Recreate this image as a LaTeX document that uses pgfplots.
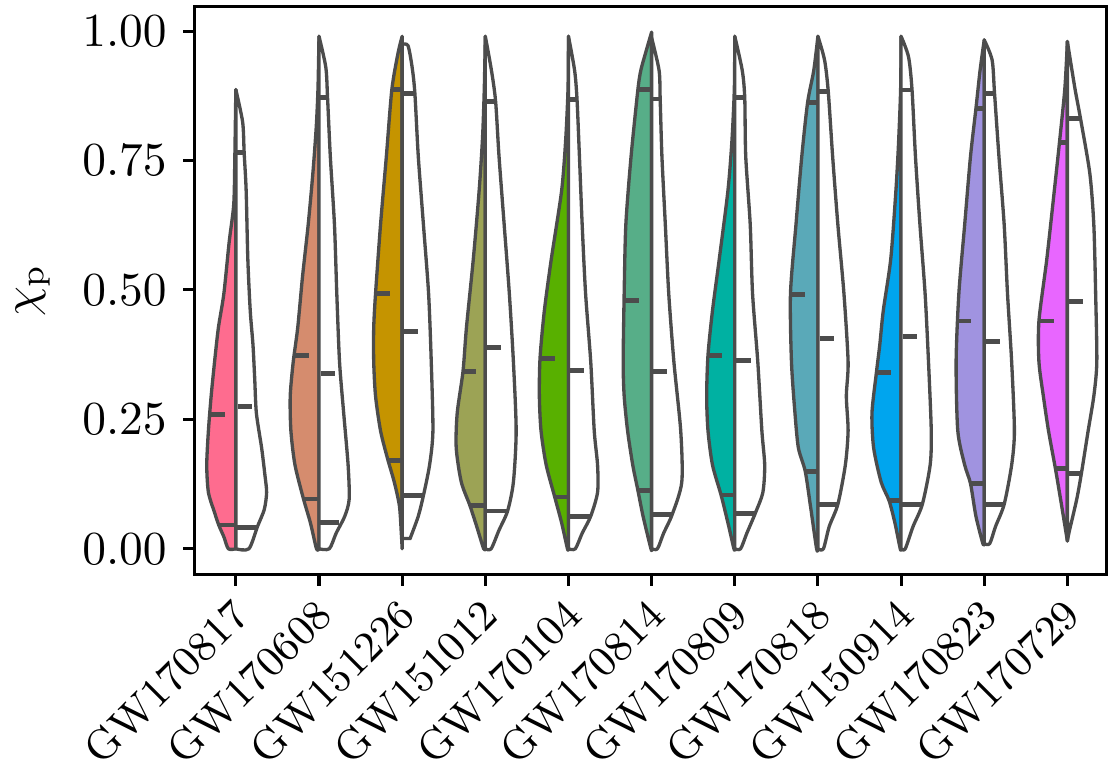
\documentclass[border=0pt]{standalone}
\usepackage{pgfplots}
\usepackage{pgfplotstable}
\pgfplotsset{compat=1.18}
\definecolor{vg}{HTML}{4C4C4C}
\definecolor{c1}{HTML}{FE6C8F}
\definecolor{c2}{HTML}{D58C6E}
\definecolor{c3}{HTML}{C59400}
\definecolor{c4}{HTML}{9CA355}
\definecolor{c5}{HTML}{58B000}
\definecolor{c6}{HTML}{57AE88}
\definecolor{c7}{HTML}{00B1A2}
\definecolor{c8}{HTML}{5AA9B8}
\definecolor{c9}{HTML}{00A5EE}
\definecolor{c10}{HTML}{A093E0}
\definecolor{c11}{HTML}{E866FF}
% ---- violin halves: w = half-width (x units), y = chi_p ----
\pgfplotstableread{
w y
0 0.887
0.012 0.758
0.025 0.666
0.08 0.593
0.144 0.493
0.21 0.427
0.256 0.361
0.297 0.295
0.33 0.228
0.35 0.162
0.33 0.109
0.256 0.07
0.206 0.046
0.144 0.023
0.09 0.0
0 0.0
}\vAL
\pgfplotstableread{
w y
0 0.887
0.082 0.824
0.10 0.765
0.124 0.692
0.144 0.56
0.173 0.46
0.206 0.394
0.227 0.328
0.247 0.262
0.31 0.195
0.35 0.142
0.37 0.109
0.342 0.076
0.26 0.043
0.157 0.0
0 0.0
}\vAR
\pgfplotstableread{
w y
0 0.99
0.012 0.89
0.033 0.815
0.074 0.725
0.13 0.626
0.198 0.526
0.256 0.427
0.31 0.361
0.346 0.295
0.338 0.228
0.289 0.162
0.186 0.096
0.103 0.05
0.03 0.0
0 0
}\vBL
\pgfplotstableread{
w y
0 0.99
0.082 0.93
0.103 0.871
0.136 0.758
0.186 0.626
0.214 0.493
0.247 0.361
0.297 0.262
0.35 0.162
0.363 0.096
0.31 0.063
0.206 0.03
0.124 0.0
0 0
}\vBR
\pgfplotstableread{
w y
0 0.99
0.05 0.957
0.124 0.887
0.19 0.758
0.26 0.626
0.32 0.493
0.342 0.427
0.342 0.361
0.32 0.295
0.26 0.228
0.177 0.175
0.095 0.129
0.033 0.083
0.01 0.03
0 0
}\vCL
\pgfplotstableread{
w y
0 0.974
0.07 0.972
0.12 0.93
0.153 0.88
0.194 0.758
0.256 0.626
0.318 0.493
0.35 0.361
0.37 0.228
0.33 0.162
0.256 0.103
0.194 0.063
0.103 0.023
0.09 0.02
0 0.02
}\vCR
\pgfplotstableread{
w y
0 0.99
0.012 0.89
0.033 0.795
0.074 0.692
0.144 0.56
0.227 0.427
0.268 0.343
0.338 0.262
0.35 0.195
0.289 0.129
0.186 0.084
0.103 0.043
0.02 0.0
0 0
}\vDL
\pgfplotstableread{
w y
0 0.99
0.074 0.924
0.124 0.864
0.165 0.758
0.227 0.626
0.289 0.493
0.338 0.361
0.371 0.228
0.338 0.129
0.268 0.073
0.165 0.036
0.07 0.0
0 0
}\vDR
\pgfplotstableread{
w y
0 0.99
0.005 0.89
0.033 0.791
0.082 0.692
0.206 0.56
0.29 0.46
0.342 0.368
0.35 0.295
0.33 0.228
0.268 0.162
0.165 0.10
0.082 0.05
0.012 0.0
0 0
}\vEL
\pgfplotstableread{
w y
0 0.99
0.074 0.924
0.103 0.868
0.132 0.758
0.165 0.626
0.206 0.493
0.268 0.361
0.31 0.228
0.35 0.162
0.35 0.109
0.268 0.063
0.165 0.03
0.082 0.0
0 0
}\vER
\pgfplotstableread{
w y
0 0.998
0.074 0.957
0.13 0.924
0.165 0.887
0.247 0.758
0.31 0.626
0.33 0.493
0.342 0.361
0.33 0.295
0.289 0.228
0.227 0.162
0.165 0.113
0.103 0.063
0.008 0.0
0 0
}\vFL
\pgfplotstableread{
w y
0 0.987
0.09 0.924
0.103 0.869
0.124 0.758
0.165 0.626
0.206 0.493
0.268 0.361
0.35 0.228
0.363 0.129
0.247 0.066
0.144 0.03
0.07 0.0
0 0
}\vFR
\pgfplotstableread{
w y
0 0.99
0.005 0.89
0.033 0.791
0.082 0.692
0.186 0.56
0.268 0.46
0.322 0.374
0.338 0.295
0.322 0.228
0.268 0.162
0.165 0.104
0.082 0.05
0.01 0.0
0 0
}\vGL
\pgfplotstableread{
w y
0 0.99
0.09 0.924
0.12 0.871
0.132 0.758
0.186 0.626
0.214 0.493
0.277 0.361
0.326 0.228
0.36 0.162
0.338 0.109
0.245 0.068
0.145 0.03
0.07 0.0
0 0
}\vGR
\pgfplotstableread{
w y
0 0.99
0.05 0.924
0.124 0.862
0.194 0.758
0.264 0.626
0.33 0.493
0.318 0.361
0.276 0.262
0.235 0.195
0.153 0.15
0.09 0.083
0.016 0.0
0 0
}\vHL
\pgfplotstableread{
w y
0 0.99
0.08 0.944
0.124 0.884
0.177 0.758
0.24 0.626
0.313 0.493
0.363 0.361
0.342 0.295
0.363 0.228
0.33 0.162
0.24 0.086
0.136 0.043
0.066 0.0
0 0
}\vHR
\pgfplotstableread{
w y
0 0.99
0.005 0.89
0.03 0.785
0.062 0.692
0.124 0.56
0.214 0.46
0.256 0.394
0.297 0.34
0.35 0.262
0.33 0.195
0.24 0.129
0.144 0.093
0.074 0.05
0.01 0.0
0 0
}\vIL
\pgfplotstableread{
w y
0 0.99
0.09 0.95
0.132 0.886
0.173 0.758
0.227 0.626
0.289 0.493
0.33 0.361
0.363 0.228
0.35 0.162
0.256 0.086
0.144 0.043
0.05 0.0
0 0
}\vIR
\pgfplotstableread{
w y
0 0.983
0.05 0.924
0.1 0.85
0.165 0.758
0.235 0.626
0.305 0.493
0.338 0.361
0.318 0.228
0.235 0.162
0.165 0.126
0.1 0.063
0.016 0.01
0 0.01
}\vJL
\pgfplotstableread{
w y
0 0.983
0.095 0.944
0.124 0.88
0.177 0.758
0.24 0.626
0.28 0.493
0.33 0.361
0.363 0.228
0.33 0.162
0.24 0.086
0.136 0.043
0.066 0.01
0 0.01
}\vJR
\pgfplotstableread{
w y
0 0.98
0.03 0.89
0.095 0.785
0.157 0.692
0.247 0.56
0.342 0.44
0.342 0.361
0.289 0.295
0.227 0.228
0.144 0.155
0.082 0.096
0 0.015
}\vKL
\pgfplotstableread{
w y
0 0.98
0.09 0.89
0.158 0.831
0.27 0.725
0.318 0.626
0.34 0.493
0.354 0.361
0.318 0.295
0.25 0.228
0.168 0.145
0.113 0.096
0.022 0.033
0 0.015
}\vKR
\newcommand{\halfv}[4]{%
  \addplot[fill=#3, draw=vg, line width=0.7pt, line join=round, smooth, tension=0.45]
    table[x expr=#1#2\thisrow{w}, y=y] {#4} -- cycle;}
\newcommand{\seg}[3]{%
  \addplot[draw=vg, line width=1.0pt] coordinates {(#1,#3) (#2,#3)};}
\begin{document}
\begin{tikzpicture}
\begin{axis}[
  scale only axis, width=192.4pt, height=119.9pt,
  xmin=-0.5, xmax=10.47, ymin=-0.05, ymax=1.048,
  xtick={0,1,2,3,4,5,6,7,8,9,10},
  xticklabels={GW170817,GW170608,GW151226,GW151012,GW170104,GW170814,GW170809,GW170818,GW150914,GW170823,GW170729},
  xticklabel style={font=\fontsize{9}{10}\selectfont, xshift=-1.3pt, yshift=-2pt, rotate=45, anchor=north east, inner sep=0pt},
  ytick={0,0.25,0.5,0.75,1},
  yticklabel style={/pgf/number format/.cd, fixed, fixed zerofill, precision=2},
  tick align=outside, tick pos=left, major tick length=2.3pt,
  axis line style={line width=0.65pt},
  every tick/.style={black, line width=0.65pt},
  ylabel={$\chi_{\rm p}$},
]
\halfv{0}{-}{c1}{\vAL}  \halfv{0}{+}{white}{\vAR}
\halfv{1}{-}{c2}{\vBL}  \halfv{1}{+}{white}{\vBR}
\halfv{2}{-}{c3}{\vCL}  \halfv{2}{+}{white}{\vCR}
\halfv{3}{-}{c4}{\vDL}  \halfv{3}{+}{white}{\vDR}
\halfv{4}{-}{c5}{\vEL}  \halfv{4}{+}{white}{\vER}
\halfv{5}{-}{c6}{\vFL}  \halfv{5}{+}{white}{\vFR}
\halfv{6}{-}{c7}{\vGL}  \halfv{6}{+}{white}{\vGR}
\halfv{7}{-}{c8}{\vHL}  \halfv{7}{+}{white}{\vHR}
\halfv{8}{-}{c9}{\vIL}  \halfv{8}{+}{white}{\vIR}
\halfv{9}{-}{c10}{\vJL} \halfv{9}{+}{white}{\vJR}
\halfv{10}{-}{c11}{\vKL} \halfv{10}{+}{white}{\vKR}
% quantile and median lines
\seg{-0.206}{0}{0.046} \seg{-0.025}{0}{0.666} \seg{-0.30}{-0.13}{0.26}
\seg{0}{0.10}{0.766} \seg{0}{0.255}{0.041} \seg{0.02}{0.19}{0.275}
\seg{0.967}{1}{0.814} \seg{0.814}{1}{0.096} \seg{0.69}{0.876}{0.374}
\seg{1}{1.103}{0.871} \seg{1}{1.24}{0.051} \seg{1.02}{1.19}{0.338}
\seg{1.876}{2}{0.887} \seg{1.823}{2}{0.17} \seg{1.67}{1.852}{0.493}
\seg{2}{2.153}{0.88} \seg{2}{2.256}{0.103} \seg{2.02}{2.19}{0.42}
\seg{2.967}{3}{0.795} \seg{2.814}{3}{0.084} \seg{2.72}{2.885}{0.343}
\seg{3}{3.124}{0.864} \seg{3}{3.268}{0.073} \seg{3.02}{3.19}{0.389}
\seg{3.967}{4}{0.791} \seg{3.835}{4}{0.10} \seg{3.655}{3.835}{0.368}
\seg{4}{4.103}{0.868} \seg{4}{4.268}{0.063} \seg{4.02}{4.19}{0.344}
\seg{4.835}{5}{0.887} \seg{4.835}{5}{0.113} \seg{4.67}{4.843}{0.479}
\seg{5}{5.103}{0.869} \seg{5}{5.247}{0.066} \seg{5.02}{5.19}{0.343}
\seg{5.967}{6}{0.791} \seg{5.835}{6}{0.104} \seg{5.678}{5.847}{0.374}
\seg{6}{6.12}{0.871} \seg{6}{6.245}{0.068} \seg{6.02}{6.19}{0.364}
\seg{6.876}{7}{0.862} \seg{6.847}{7}{0.15} \seg{6.67}{6.843}{0.491}
\seg{7}{7.124}{0.884} \seg{7}{7.24}{0.086} \seg{7.02}{7.19}{0.406}
\seg{7.97}{8}{0.785} \seg{7.856}{8}{0.093} \seg{7.72}{7.876}{0.34}
\seg{8}{8.132}{0.886} \seg{8}{8.256}{0.086} \seg{8.02}{8.19}{0.41}
\seg{8.9}{9}{0.85} \seg{8.835}{9}{0.126} \seg{8.67}{8.835}{0.44}
\seg{9}{9.124}{0.88} \seg{9}{9.24}{0.086} \seg{9.02}{9.19}{0.40}
\seg{9.905}{10}{0.785} \seg{9.856}{10}{0.155} \seg{9.67}{9.835}{0.44}
\seg{10}{10.158}{0.831} \seg{10}{10.168}{0.145} \seg{10.02}{10.19}{0.477}
\end{axis}
\end{tikzpicture}
\end{document}
